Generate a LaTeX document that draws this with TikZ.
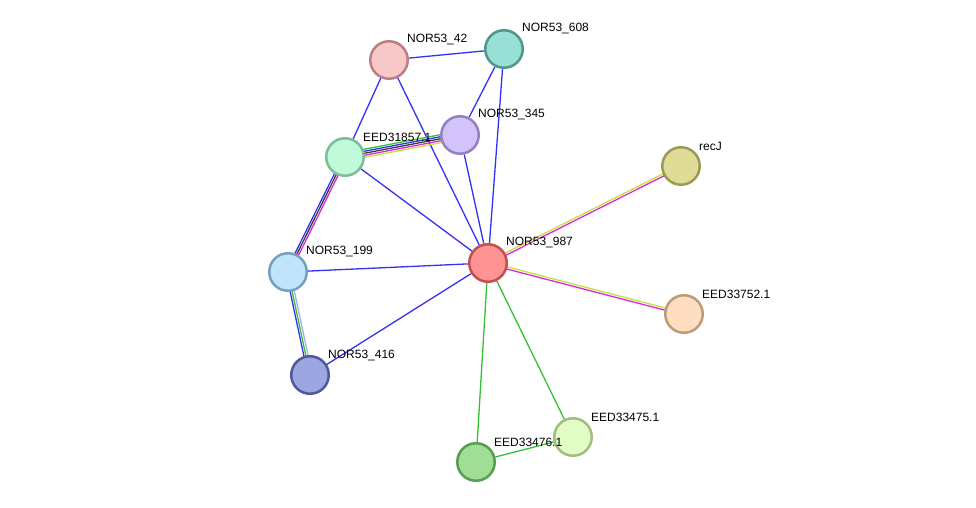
\documentclass[tikz,border=0pt]{standalone}
\usepackage{fontspec}
\setmainfont{Liberation Sans}
\usetikzlibrary{calc,backgrounds}
\definecolor{eblue}{RGB}{50,50,245}
\definecolor{egreen}{RGB}{50,195,50}
\definecolor{eyellow}{RGB}{195,225,60}
\definecolor{emag}{RGB}{220,40,220}
\definecolor{eblack}{RGB}{60,60,60}
\definecolor{elav}{RGB}{170,170,245}
\tikzset{
  prot/.style={circle,minimum size=37.5pt,inner sep=0pt,line width=2.5pt},
  lbl/.style={anchor=west,inner sep=1pt,font=\fontsize{12}{14}\selectfont},
  edge/.style={line width=1.3pt},
}
\newcommand\pedge[4]{\draw[edge,#4] ($(#1)!#3!90:(#2)$) -- ($(#2)!#3!-90:(#1)$);}
\begin{document}
\begin{tikzpicture}[x=1pt,y=-1pt]
\path[use as bounding box] (0,0) rectangle (976,508);
\node[prot,fill={rgb,255:red,248;green,200;blue,200},draw={rgb,255:red,185;green,128;blue,128}] (n42) at (389,60) {};
\node[prot,fill={rgb,255:red,152;green,224;blue,214},draw={rgb,255:red,80;green,150;blue,140}] (n608) at (504,49) {};
\node[prot,fill={rgb,255:red,210;green,196;blue,250},draw={rgb,255:red,150;green,128;blue,195}] (n345) at (460,135) {};
\node[prot,fill={rgb,255:red,192;green,250;blue,216},draw={rgb,255:red,125;green,190;blue,150}] (eed31857) at (345,157) {};
\node[prot,fill={rgb,255:red,222;green,220;blue,150},draw={rgb,255:red,158;green,154;blue,85}] (recj) at (681,166) {};
\node[prot,fill={rgb,255:red,255;green,146;blue,146},draw={rgb,255:red,190;green,80;blue,80}] (n987) at (488,263) {};
\node[prot,fill={rgb,255:red,192;green,228;blue,250},draw={rgb,255:red,120;green,160;blue,190}] (n199) at (288,272) {};
\node[prot,fill={rgb,255:red,255;green,221;blue,192},draw={rgb,255:red,190;green,155;blue,120}] (eed33752) at (684,314) {};
\node[prot,fill={rgb,255:red,156;green,166;blue,225},draw={rgb,255:red,80;green,90;blue,150}] (n416) at (310,375) {};
\node[prot,fill={rgb,255:red,225;green,252;blue,196},draw={rgb,255:red,160;green,190;blue,125}] (eed33475) at (573,437) {};
\node[prot,fill={rgb,255:red,160;green,222;blue,150},draw={rgb,255:red,90;green,155;blue,85}] (eed33476) at (476,462) {};
\begin{pgfonlayer}{background}
\draw[edge,eblue] (n42) -- (n608);
\draw[edge,eblue] (n42) -- (eed31857);
\draw[edge,eblue] (n42) -- (n987);
\draw[edge,eblue] (n608) -- (n345);
\draw[edge,eblue] (n608) -- (n987);
\draw[edge,eblue] (n345) -- (n987);
\draw[edge,eblue] (eed31857) -- (n987);
\draw[edge,eblue] (n199) -- (n987);
\draw[edge,eblue] (n416) -- (n987);
\pedge{eed31857}{n345}{4pt}{egreen}
\pedge{eed31857}{n345}{2pt}{eblue}
\pedge{eed31857}{n345}{0pt}{eblack}
\pedge{eed31857}{n345}{-2pt}{emag}
\pedge{eed31857}{n345}{-4pt}{eyellow}
\pedge{eed31857}{n199}{2pt}{emag}
\pedge{eed31857}{n199}{0pt}{eblack}
\pedge{eed31857}{n199}{-2pt}{eblue}
\pedge{n199}{n416}{-2pt}{eblue}
\pedge{n199}{n416}{0pt}{egreen}
\pedge{n199}{n416}{2.2pt}{elav}
\pedge{n987}{recj}{1.1pt}{eyellow}
\pedge{n987}{recj}{-1.1pt}{emag}
\pedge{n987}{eed33752}{1.1pt}{eyellow}
\pedge{n987}{eed33752}{-1.1pt}{emag}
\draw[edge,egreen] (n987) -- (eed33476);
\draw[edge,egreen] (n987) -- (eed33475);
\draw[edge,egreen] (eed33476) -- (eed33475);
\end{pgfonlayer}
\node[lbl] (l42) at ($(n42)+(17,-20)$) {NOR53\_42};
\node[lbl] (l608) at ($(n608)+(17,-20)$) {NOR53\_608};
\node[lbl] (l345) at ($(n345)+(17,-20)$) {NOR53\_345};
\node[lbl] (l31857) at ($(eed31857)+(17,-20)$) {EED31857.1};
\node[lbl] (lrecj) at ($(recj)+(17,-20)$) {recJ};
\node[lbl] (l987) at ($(n987)+(17,-20)$) {NOR53\_987};
\node[lbl] (l199) at ($(n199)+(17,-20)$) {NOR53\_199};
\node[lbl] (l33752) at ($(eed33752)+(17,-20)$) {EED33752.1};
\node[lbl] (l416) at ($(n416)+(17,-20)$) {NOR53\_416};
\node[lbl] (l33475) at ($(eed33475)+(17,-20)$) {EED33475.1};
\node[lbl] (l33476) at ($(eed33476)+(17,-20)$) {EED33476.1};
\end{tikzpicture}
\end{document}
